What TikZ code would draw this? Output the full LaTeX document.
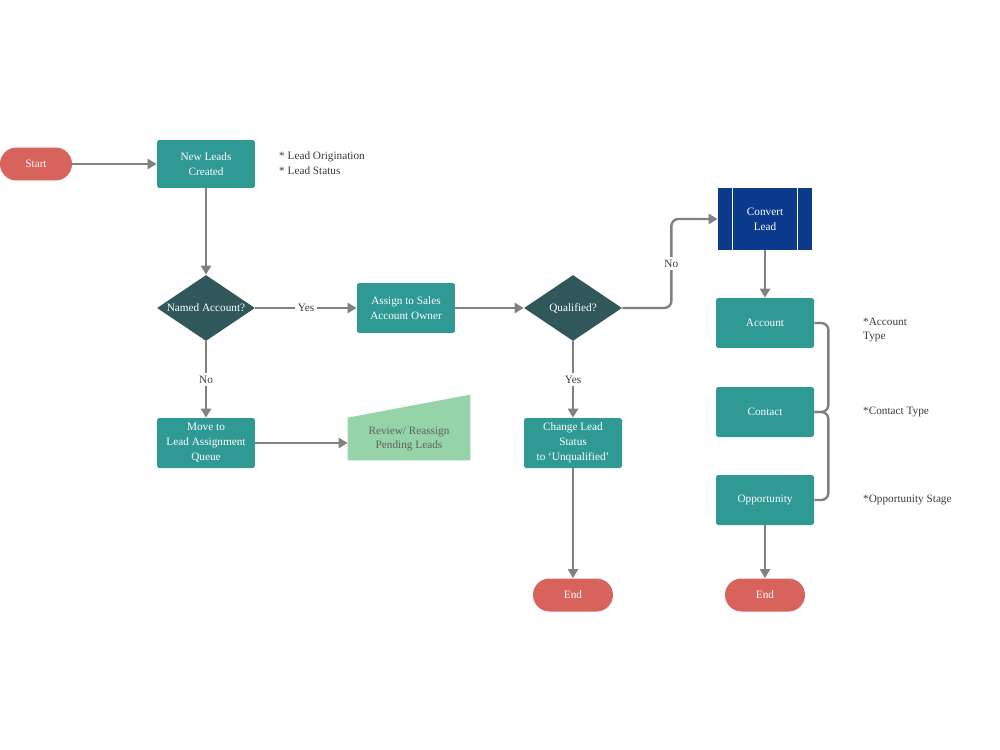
\documentclass[tikz,border=0pt]{standalone}
\usepackage{fontspec}
\setmainfont{Liberation Serif}
\usetikzlibrary{shapes.geometric,arrows.meta,backgrounds}

\definecolor{boxteal}{HTML}{2F9A94}
\definecolor{decslate}{HTML}{30575A}
\definecolor{termred}{HTML}{D8625C}
\definecolor{convblue}{HTML}{0C3B8E}
\definecolor{reviewgreen}{HTML}{95D3A9}
\definecolor{linegray}{HTML}{808080}
\definecolor{notegray}{HTML}{3A3A3A}

\begin{document}
\begin{tikzpicture}[x=0.02cm, y=-0.02cm, % one unit per pixel
    font=\fontsize{6.4}{8.5}\selectfont,
    process/.style={fill=boxteal, text=white, rounded corners=1pt,
      minimum width=1.96cm, minimum height=1cm, align=center, inner sep=1pt},
    decision/.style={diamond, fill=decslate, text=white,
      minimum width=1.96cm, minimum height=1.32cm, inner sep=0pt},
    terminal/.style={fill=termred, text=white, rounded corners=0.33cm,
      minimum height=0.66cm, minimum width=1.6cm},
    note/.style={anchor=west, align=left, text=notegray},
    lbl/.style={fill=white, text=notegray, inner sep=1.5pt},
    flow/.style={draw=linegray, line width=1.35pt,
      -{Triangle[width=5.8pt,length=5.2pt]}},
    link/.style={draw=linegray, line width=1.35pt, rounded corners=4pt}]
        \useasboundingbox (0,0) rectangle (1000,750);

        % Left column
        \node[terminal, minimum width=1.44cm] (start) at (36,164) {Start};
        \node[process, minimum height=0.96cm] (newleads) at (206,164) {New Leads\\Created};
        \node[note] (leadnote) at (273,163) {* Lead Origination\\* Lead Status};
        \node[decision] (named) at (206,308) {\makebox[0pt]{Named Account?}};
        \node[process] (queue) at (206,443) {Move to\\Lead Assignment\\Queue};

        % Review (manual input)
        \node[minimum width=2.44cm, minimum height=0.84cm, align=center,
              text=notegray!80] (review) at (409,439) {Review/ Reassign\\Pending Leads};
        \begin{scope}[on background layer]
            \fill[reviewgreen] (review.south west) -- (review.north west)
                -- ([yshift=0.46cm]review.north east) -- (review.south east) -- cycle;
        \end{scope}

        % Middle column
        \node[process] (assign) at (406,308) {Assign to Sales\\Account Owner};
        \node[decision] (qual) at (573,308) {\makebox[0pt]{Qualified?}};
        \node[process] (change) at (573,443) {Change Lead\\Status\\to `Unqualified'};
        \node[terminal] (endleft) at (573,595) {End};

        % Right column
        \node[fill=convblue, text=white, minimum width=1.88cm, minimum height=1.24cm,
              align=center] (convert) at (765,219) {Convert\\Lead};
        \draw[white, line width=0.6pt] ([xshift=0.3cm]convert.north west) -- ([xshift=0.3cm]convert.south west);
        \draw[white, line width=0.6pt] ([xshift=-0.3cm]convert.north east) -- ([xshift=-0.3cm]convert.south east);
        \node[process] (account) at (765,323) {Account};
        \node[process] (contact) at (765,412) {Contact};
        \node[process] (opport) at (765,500) {Opportunity};
        \node[terminal] (endright) at (765,595) {End};

        \node[note] (acctnote) at (857,330) {*Account\\Type};
        \node[note] (contnote) at (857,412) {*Contact Type};
        \node[note] (oppnote) at (857,500) {*Opportunity Stage};

        % Connectors
        \draw[flow] (start) -- (newleads);
        \draw[flow] (newleads) -- (named);
        \draw[flow] (named) -- node[lbl] {Yes} (assign);
        \draw[flow] (named) -- node[lbl] {No} (queue);
        \draw[flow] (queue.east) -- (queue.east -| review.west);
        \draw[flow] (assign) -- (qual);
        \draw[flow, rounded corners=4pt] (qual.east) -- ++(49,0) |- node[lbl, pos=0.25] {No} (convert.west);
        \draw[flow] (qual) -- node[lbl] {Yes} (change);
        \draw[flow] (change) -- (endleft);
        \draw[flow] (convert) -- (account);
        \draw[link] (account.east) -- ++(14,0) |- (contact.east);
        \draw[link] (contact.east) -- ++(14,0) |- (opport.east);
        \draw[flow] (opport) -- (endright);
    \end{tikzpicture}
\end{document}
